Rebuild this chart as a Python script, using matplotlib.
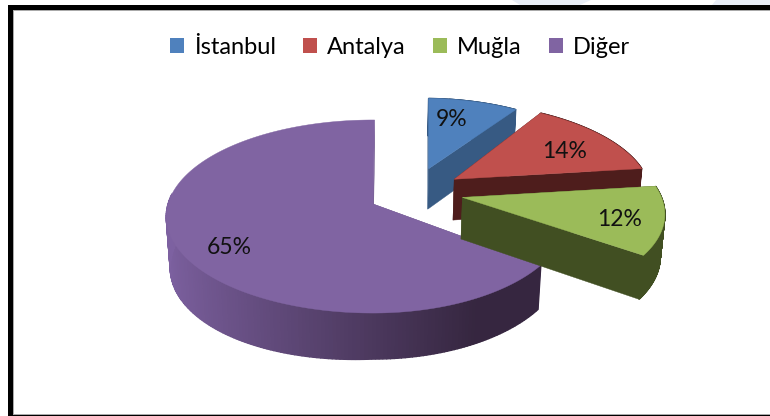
import numpy as np
import matplotlib
matplotlib.use('Agg')
import matplotlib.pyplot as plt
from matplotlib.patches import Patch, Rectangle

categories = ['İstanbul', 'Antalya', 'Muğla', 'Diğer']
shares = [9, 14, 12, 65]
labels = ['9%', '14%', '12%', '65%']

top_colors = ['#4f81bd', '#c0504d', '#9bbb59', '#8064a2']
wall_colors = ['#375a83', '#4e1d1c', '#414f22', '#6c5489']

# slice layout: moved out in the pie plane, radius scale, label spot in pixels
explode_x = [0.285, 0.41, 0.44, 0.0]
explode_y = [0.39, 0.27, 0.07, 0.0]
radius_scale = [0.91, 0.975, 0.98, 1.0]
angle_tweak = [2, 0, 0, 0.5]
right_squeeze = [1, 1, 1, 0.94]
label_pos = [(452, 120), (565, 152), (620, 220), (229, 248)]

# camera
CX, CY = 373, 204
SCALE = 205
SIN_E = 0.463
COS_E = np.sqrt(1 - SIN_E ** 2)
DIST = 6.84
HEIGHT = 0.234


def project(x, y, z):
    depth = DIST + y * COS_E - z * SIN_E
    f = SCALE * DIST / depth
    return CX + x * f, CY - (y * SIN_E + z * COS_E) * f


def slice_points(i, start, end, n=240):
    a = np.radians(np.linspace(start, end, n) + angle_tweak[i])
    r = radius_scale[i]
    sx = np.sin(a)
    sx = np.where(sx > 0, sx * right_squeeze[i], sx)
    return explode_x[i] + r * sx, explode_y[i] + r * np.cos(a)


def draw_slice(ax, i, start, end):
    xs, ys = slice_points(i, start, end)
    ax0, ay0 = explode_x[i], explode_y[i]

    # radial walls first
    for wx, wy in [(xs[0], ys[0]), (xs[-1], ys[-1])]:
        px = [ax0, wx, wx, ax0]
        py = [ay0, wy, wy, ay0]
        pz = [0, 0, -HEIGHT, -HEIGHT]
        sx, sy = project(np.array(px), np.array(py), np.array(pz))
        ax.fill(sx, sy, color=wall_colors[i], lw=0.3)

    # outer wall, darker to the right
    x0, y0 = project(xs, ys, 0 * xs)
    low = HEIGHT * (1 + 0.22 * np.clip(-xs, 0, 1)) if i == 3 else HEIGHT * np.ones(len(xs))
    x1, y1 = project(xs, ys, -low)
    for k in range(len(xs) - 1):
        if ys[k] > 0.1 + explode_y[i] and i == 3:
            continue
        shade = np.clip((xs[k] + 1) / 1.45, 0, 1)
        if i == 3:
            col = (1 - shade) * np.array([0.49, 0.38, 0.63]) + shade * np.array([0.21, 0.15, 0.25])
        else:
            col = matplotlib.colors.to_rgb(wall_colors[i])
        ax.fill([x0[k], x0[k + 1], x1[k + 1], x1[k]], [y0[k], y0[k + 1], y1[k + 1], y1[k]],
                color=col, lw=1)

    # top face
    tx, ty = project(np.r_[ax0, xs], np.r_[ay0, ys], np.zeros(len(xs) + 1))
    ax.fill(tx, ty, color=top_colors[i], lw=0.3)


fig = plt.figure(figsize=(7.7, 4.16), dpi=100)
ax = fig.add_axes([0, 0, 1, 1])
ax.set_xlim(0, 770)
ax.set_ylim(416, 0)
ax.axis('off')

# faint shapes above the frame
ax.fill([512, 591, 580, 520], [0, 0, 5, 5], color='#e9eef7', lw=0)
ax.fill([716, 770, 770, 712], [0, 0, 5, 5], color='#e9eef7', lw=0)

# frame, open on the right
ax.add_patch(Rectangle((8, 5), 770, 411, fc='black', ec='none'))
ax.add_patch(Rectangle((12.5, 9.5), 770, 405, fc='#aaaaaa', ec='none'))
ax.add_patch(Rectangle((13.5, 10.5), 770, 403, fc='white', ec='none'))

starts = np.r_[0, np.cumsum(shares)[:-1]] * 3.6
ends = np.cumsum(shares) * 3.6

for i in [0, 1, 3, 2]:
    draw_slice(ax, i, starts[i], ends[i])

for i, lab in enumerate(labels):
    ax.text(label_pos[i][0], label_pos[i][1], lab, ha='center', va='center',
            fontsize=16.5, family='Lato', color='#111111')

handles = [Patch(fc=c, ec='none') for c in top_colors]
ax.legend(handles, categories, ncol=4, loc='center', bbox_to_anchor=(0.519, 0.887),
          frameon=False, prop={'family': 'Lato', 'size': 17},
          handlelength=0.62, handleheight=0.62, handletextpad=0.4, columnspacing=1.15)

fig.savefig('out.png', dpi=100)
